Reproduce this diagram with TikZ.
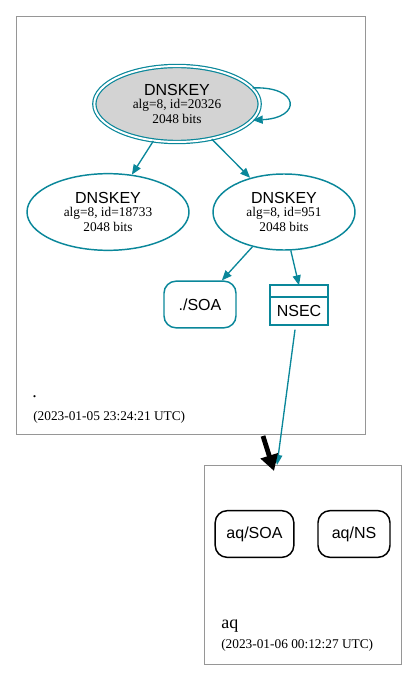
\documentclass[tikz,border=0pt]{standalone}
\usepackage{fontspec}
\setmainfont{Liberation Serif}
\setsansfont{Liberation Sans}
\usetikzlibrary{positioning,arrows.meta,shapes.geometric}
\definecolor{KeyTeal}{RGB}{10,135,154}
\definecolor{KeyFill}{RGB}{211,211,211}
\definecolor{ZoneGray}{RGB}{150,150,150}
\newcommand{\keytext}[1]{{\sffamily\fontsize{12}{12}\selectfont DNSKEY}\\[-2.5pt]
  {\fontsize{10}{10}\selectfont alg=8, id=#1}\\[-1pt]{\fontsize{10}{10}\selectfont 2048 bits}}
\tikzset{
  edge/.style={-{Triangle[length=7.5pt,width=6pt]},line width=1pt,draw=KeyTeal},
  delegation/.style={-{Triangle[length=12pt,width=13pt]},line width=3.6pt,draw=black},
  keynode/.style={ellipse,draw=KeyTeal,line width=1.1pt,align=center,inner sep=0pt},
  rrset/.style={draw=KeyTeal,line width=1.1pt,rounded corners=9pt,minimum width=54pt,
    minimum height=35pt,font=\sffamily\fontsize{12}{14}\selectfont},
  blackrrset/.style={rrset,draw=black},
  nsecbox/.style={draw=KeyTeal,line width=1.4pt,minimum width=43.5pt,inner sep=0pt,outer sep=0pt,
    font=\sffamily\fontsize{12}{14}\selectfont},
  zone/.style={draw=ZoneGray,line width=0.6pt,inner sep=0pt},
  zonelabel/.style={anchor=base west,inner sep=0pt,font=\fontsize{10}{12}\selectfont},
  zonename/.style={zonelabel,font=\fontsize{13.5}{15}\selectfont}
}
\begin{document}
\begin{tikzpicture}[x=0.75pt,y=-0.75pt]
  \useasboundingbox (0,0) rectangle (417,681);
  % zones
  \node[zone,minimum width=261.75pt,minimum height=313.5pt] (zroot) at (190.5,225) {};
  \node[zone,minimum width=147.75pt,minimum height=149.25pt] (zaq) at (302.5,564.5) {};
  \node[zonename] (lroot) at (32,397) {.};
  \node[zonelabel] (droot) at (33,420) {(2023-01-05 23:24:21 UTC)};
  \node[zonename] (laq) at (221,628) {aq};
  \node[zonelabel] (daq) at (221,648) {(2023-01-06 00:12:27 UTC)};
  % keys
  \node[keynode,fill=KeyFill,double=white,double distance=1.5pt,line width=0.9pt,
    minimum width=124pt,minimum height=57pt] (ksk) at (177,104) {\keytext{20326}};
  \node[keynode,minimum width=121.5pt,minimum height=57.5pt] (zsk) at (108,212) {\keytext{18733}};
  \node[keynode,minimum width=106.5pt,minimum height=57pt] (zsk2) at (284,212) {\keytext{951}};
  % rrsets
  \node[rrset] (soa) at (200,304.5) {./SOA};
  \node[nsecbox,minimum height=8.5pt] (nsectop) at (299,291) {};
  \node[nsecbox,minimum height=21pt,below=0pt of nsectop] (nsec) {NSEC};
  \node[blackrrset,minimum width=59pt] (aqsoa) at (254.5,534) {aq/SOA};
  \node[blackrrset] (aqns) at (354,534) {aq/NS};
  \coordinate (aqtop) at (277,465);
  \coordinate (delstart) at (263,436);
  \coordinate (delend) at (274,471);
  % edges
  \draw[edge] (ksk.12) .. controls (300,86) and (302,118) .. (ksk.-12);
  \draw[edge] (ksk) -- (zsk);
  \draw[edge] (ksk) -- (zsk2);
  \draw[edge] (zsk2) -- (soa);
  \draw[edge] (zsk2.-80) -- (nsectop.north);
  \draw[edge] (nsec.south) ++(-4,5) -- (aqtop);
  \draw[delegation] (delstart) -- (delend);
\end{tikzpicture}
\end{document}
